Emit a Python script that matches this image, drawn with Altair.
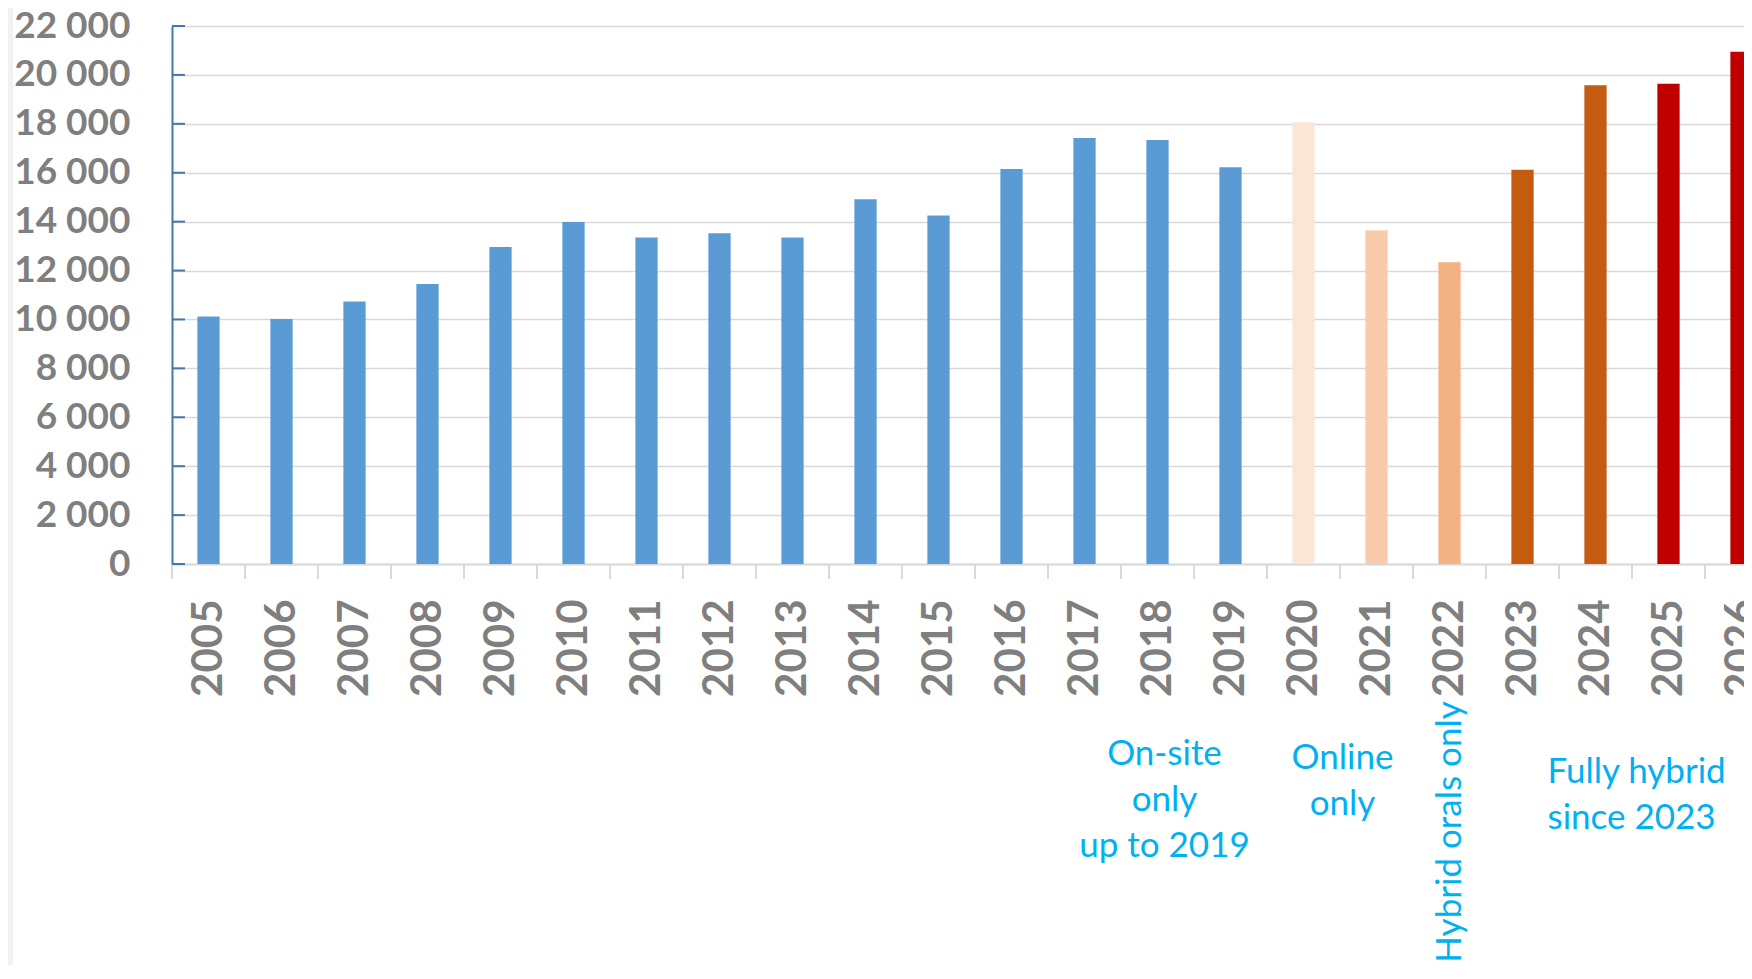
import altair as alt
import pandas as pd

# ---------------- data ----------------
years = ["2005", "2006", "2007", "2008", "2009", "2010", "2011", "2012", "2013",
         "2014", "2015", "2016", "2017", "2018", "2019", "2020", "2021", "2022",
         "2023", "2024", "2025", "2026"]
abstracts = [10120, 10020, 10730, 11450, 12960, 13990, 13350, 13520, 13350,
             14920, 14250, 16150, 17420, 17340, 16220, 18060, 13650, 12340,
             16120, 19580, 19640, 20950]
phases = ["On-site", "On-site", "On-site", "On-site", "On-site", "On-site",
          "On-site", "On-site", "On-site", "On-site", "On-site", "On-site",
          "On-site", "On-site", "On-site", "Online 2020", "Online 2021",
          "Hybrid orals", "Fully hybrid", "Fully hybrid", "Fully hybrid 2025+",
          "Fully hybrid 2025+"]
phase_domain = ["On-site", "Online 2020", "Online 2021", "Hybrid orals",
                "Fully hybrid", "Fully hybrid 2025+"]
y_ticks = [0, 2000, 4000, 6000, 8000, 10000, 12000, 14000, 16000, 18000, 20000, 22000]

ann_texts = ["On-site\nonly\nup to 2019", "Online\nonly", "Hybrid orals only",
             "Fully hybrid\nsince 2023"]
ann_years = ["2018", "2020", "2022", "2023"]

# ---------------- style ----------------
phase_colors = ["#5B9BD5", "#FBE5D6", "#F8CBAD", "#F4B183", "#C55A11", "#C00000"]
AXIS_BLUE = "#4677AA"
GRID = "#D9D9D9"
LABEL = "#7F7F7F"
ANN = "#00B0F0"
FONT = "Lato"

STEP = 73
PLOT_W = 1572
PLOT_H = 538
PAD = {"left": 164, "top": 18, "right": 0, "bottom": 401}

df = pd.DataFrame({"year": years, "abstracts": abstracts, "phase": phases})

xscale = alt.Scale(domain=years, range=[0, STEP * len(years)],
                   paddingInner=0, paddingOuter=0)
yscale = alt.Scale(domain=[0, 22000], nice=False, zero=True)

x_axis = alt.Axis(title=None, labelAngle=270, labelAlign="right", labelBaseline="middle",
                  labelFont=FONT, labelFontSize=42, labelFontWeight="bold",
                  labelColor=LABEL, ticks=False, tickSize=0, labelPadding=35,
                  domainColor=GRID, domainWidth=2, grid=False)
y_axis = alt.Axis(title=None, values=y_ticks,
                  labelExpr="replace(format(datum.value, ',d'), ',', ' ')",
                  labelFont=FONT, labelFontSize=37, labelFontWeight="bold",
                  labelColor=LABEL, ticks=False, tickSize=0, labelPadding=42,
                  domainColor=AXIS_BLUE, domainWidth=2,
                  grid=True, gridColor=GRID, gridWidth=1.6)

bars = alt.Chart(df).mark_bar(width=alt.RelativeBandSize(0.305)).encode(
    x=alt.X("year:N", scale=xscale, axis=x_axis),
    y=alt.Y("abstracts:Q", scale=yscale, axis=y_axis),
    color=alt.Color("phase:N", scale=alt.Scale(domain=phase_domain, range=phase_colors),
                    legend=None),
)

# category boundary ticks below the x axis
xticks = alt.Chart(pd.DataFrame({"year": years})).mark_rule(
    color=GRID, strokeWidth=2).encode(
    x=alt.X("year:N", scale=xscale, bandPosition=0, axis=x_axis),
    y=alt.value(PLOT_H), y2=alt.value(PLOT_H + 15),
)

# inward y ticks
yticks = alt.Chart(pd.DataFrame({"v": y_ticks})).mark_rule(
    color=AXIS_BLUE, strokeWidth=2).encode(
    y=alt.Y("v:Q", scale=yscale, axis=y_axis),
    x=alt.value(0), x2=alt.value(13),
)

# grey strip at the far left (slide background)
strip = alt.Chart(pd.DataFrame({"a": [0]})).mark_rect(color="#F2F2F2").encode(
    x=alt.value(-PAD["left"]), x2=alt.value(-PAD["left"] + 5),
    y=alt.value(-PAD["top"]), y2=alt.value(PLOT_H + PAD["bottom"]),
)


def ann(i, **kw):
    d = pd.DataFrame({"year": [ann_years[i]], "t": [ann_texts[i]]})
    return alt.Chart(d).mark_text(font=FONT, fontSize=35, color=ANN,
                                  lineBreak="\n", lineHeight=46, **kw).encode(
        x=alt.X("year:N", scale=xscale, axis=x_axis),
        text="t:N",
    )


a1 = ann(0, align="center", baseline="alphabetic", dx=7, y=739)
a2 = ann(1, align="center", baseline="alphabetic", dx=39, y=743)
a3 = ann(2, align="center", baseline="middle", angle=270, dx=2, y=808)
a4 = ann(3, align="left", baseline="alphabetic", dx=25, y=757)

chart = alt.layer(strip, bars, xticks, yticks, a1, a2, a3, a4).properties(
    width=PLOT_W, height=PLOT_H,
    autosize=alt.AutoSizeParams(type="none"),
    padding=PAD,
).configure_view(stroke="transparent")

chart.save("out.html", embed_options={"renderer": "svg", "actions": False})
